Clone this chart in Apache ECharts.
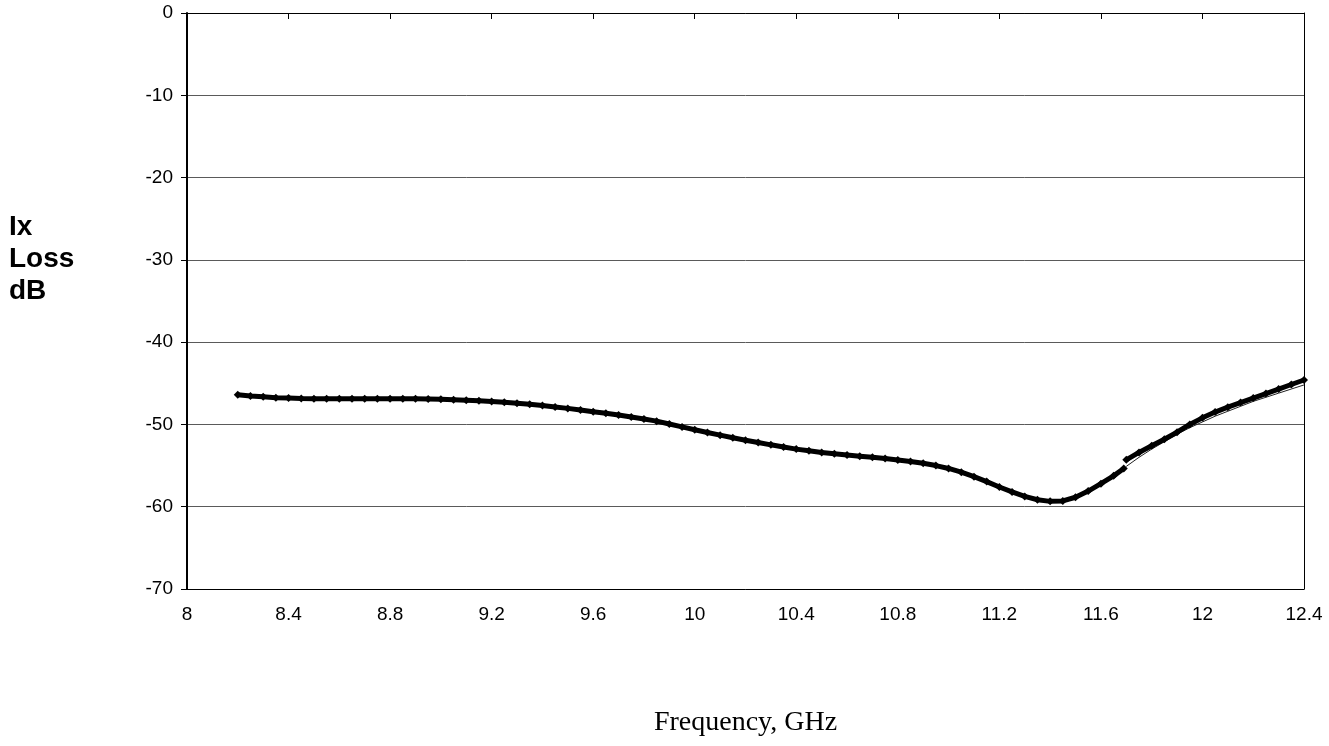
<!DOCTYPE html>
<html>
<head>
<meta charset="utf-8">
<script src="https://cdn.jsdelivr.net/npm/echarts@6/dist/echarts.min.js"></script>
<style>
html,body{margin:0;padding:0;background:#fff;}
#chart{width:1329px;height:746px;}
</style>
</head>
<body>
<div id="chart"></div>
<script>
// Frequency (GHz) and loss (dB)
const freqLow = [8.20,8.25,8.30,8.35,8.40,8.45,8.50,8.55,8.60,8.65,8.70,8.75,8.80,8.85,8.90,8.95,9.00,9.05,9.10,9.15,9.20,9.25,9.30,9.35,9.40,9.45,9.50,9.55,9.60,9.65,9.70,9.75,9.80,9.85,9.90,9.95,10.00,10.05,10.10,10.15,10.20,10.25,10.30,10.35,10.40,10.45,10.50,10.55,10.60,10.65,10.70,10.75,10.80,10.85,10.90,10.95,11.00,11.05,11.10,11.15,11.20,11.25,11.30,11.35,11.40,11.45,11.50,11.55,11.60,11.65,11.69];
const lossLow = [-46.4,-46.55,-46.65,-46.75,-46.8,-46.85,-46.87,-46.88,-46.88,-46.88,-46.87,-46.87,-46.87,-46.87,-46.88,-46.9,-46.95,-47.0,-47.05,-47.12,-47.2,-47.3,-47.42,-47.55,-47.7,-47.88,-48.05,-48.25,-48.45,-48.65,-48.85,-49.1,-49.35,-49.6,-49.95,-50.3,-50.65,-50.98,-51.3,-51.62,-51.92,-52.2,-52.48,-52.75,-53.0,-53.2,-53.4,-53.57,-53.72,-53.86,-54.0,-54.15,-54.32,-54.5,-54.72,-55.0,-55.35,-55.8,-56.35,-56.95,-57.6,-58.2,-58.75,-59.15,-59.35,-59.3,-58.85,-58.1,-57.2,-56.25,-55.35];
const freqHigh = [11.70,11.75,11.80,11.85,11.90,11.95,12.00,12.05,12.10,12.15,12.20,12.25,12.30,12.35,12.40];
const lossHigh = [-54.3,-53.4,-52.6,-51.8,-50.95,-50.0,-49.2,-48.5,-47.9,-47.35,-46.8,-46.25,-45.7,-45.15,-44.6];
const freqFit = [11.70,11.75,11.80,11.85,11.90,11.95,12.00,12.05,12.10,12.15,12.20,12.25,12.30,12.35,12.40];
const lossFit = [-55.1,-54.0,-53.0,-52.1,-51.2,-50.4,-49.7,-49.0,-48.4,-47.8,-47.2,-46.7,-46.2,-45.7,-45.2];
const xTicks = ['8','8.4','8.8','9.2','9.6','10','10.4','10.8','11.2','11.6','12','12.4'];
const yTicks = ['0','-10','-20','-30','-40','-50','-60','-70'];

const zip = (xs, ys) => xs.map((x, i) => [x, ys[i]]);
const chart = echarts.init(document.getElementById('chart'));
const markerSeries = (data) => ({
  type: 'line',
  data: data,
  symbol: 'diamond',
  symbolSize: 8,
  showSymbol: true,
  lineStyle: { color: '#000', width: 5 },
  itemStyle: { color: '#000' },
  animation: false,
  z: 3
});
chart.setOption({
  animation: false,
  backgroundColor: '#fff',
  title: {
    text: 'Ix\nLoss\ndB',
    left: 9,
    top: 211,
    padding: 0,
    textStyle: { fontFamily: 'Liberation Sans, Arial, sans-serif', fontWeight: 'bold', fontSize: 28, lineHeight: 32, color: '#000' }
  },
  grid: { left: 187, right: 25, top: 13, bottom: 157 },
  xAxis: [{
    type: 'value', min: 8, max: 12.4, interval: 0.4, position: 'bottom',
    name: 'Frequency, GHz', nameLocation: 'middle', nameGap: 120,
    nameTextStyle: { fontFamily: 'Liberation Serif, Times New Roman, serif', fontSize: 28, color: '#000' },
    axisLine: { show: true, onZero: false, lineStyle: { color: '#000', width: 1 } },
    axisTick: { show: false },
    splitLine: { show: false },
    axisLabel: {
      margin: 16, fontSize: 19, color: '#000', fontFamily: 'Liberation Sans, Arial, sans-serif',
      formatter: (v) => xTicks[Math.round((v - 8) / 0.4)] || ''
    }
  }, {
    type: 'value', min: 8, max: 12.4, interval: 0.4, position: 'top',
    axisLine: { show: true, onZero: false, lineStyle: { color: '#000', width: 1 } },
    axisTick: { show: true, inside: true, length: 6, lineStyle: { color: '#000' } },
    axisLabel: { show: false },
    splitLine: { show: false }
  }],
  yAxis: [{
    type: 'value', min: -70, max: 0, interval: 10,
    axisLine: { show: true, onZero: false, lineStyle: { color: '#000', width: 2 } },
    axisTick: { show: true, length: 6, lineStyle: { color: '#000' } },
    splitLine: { show: true, lineStyle: { color: '#5a5a5a', width: 1 } },
    axisLabel: {
      margin: 14, fontSize: 19, color: '#000', fontFamily: 'Liberation Sans, Arial, sans-serif',
      formatter: (v) => yTicks[Math.round(-v / 10)] || ''
    }
  }, {
    type: 'value', min: -70, max: 0, interval: 10, position: 'right',
    axisLine: { show: true, onZero: false, lineStyle: { color: '#000', width: 1 } },
    axisTick: { show: false }, axisLabel: { show: false }, splitLine: { show: false }
  }],
  series: [
    {
      type: 'line', data: zip(freqFit, lossFit), showSymbol: false, symbol: 'none',
      lineStyle: { color: '#222', width: 1 }, z: 2, animation: false
    },
    markerSeries(zip(freqLow, lossLow)),
    markerSeries(zip(freqHigh, lossHigh))
  ]
});
</script>
</body>
</html>
